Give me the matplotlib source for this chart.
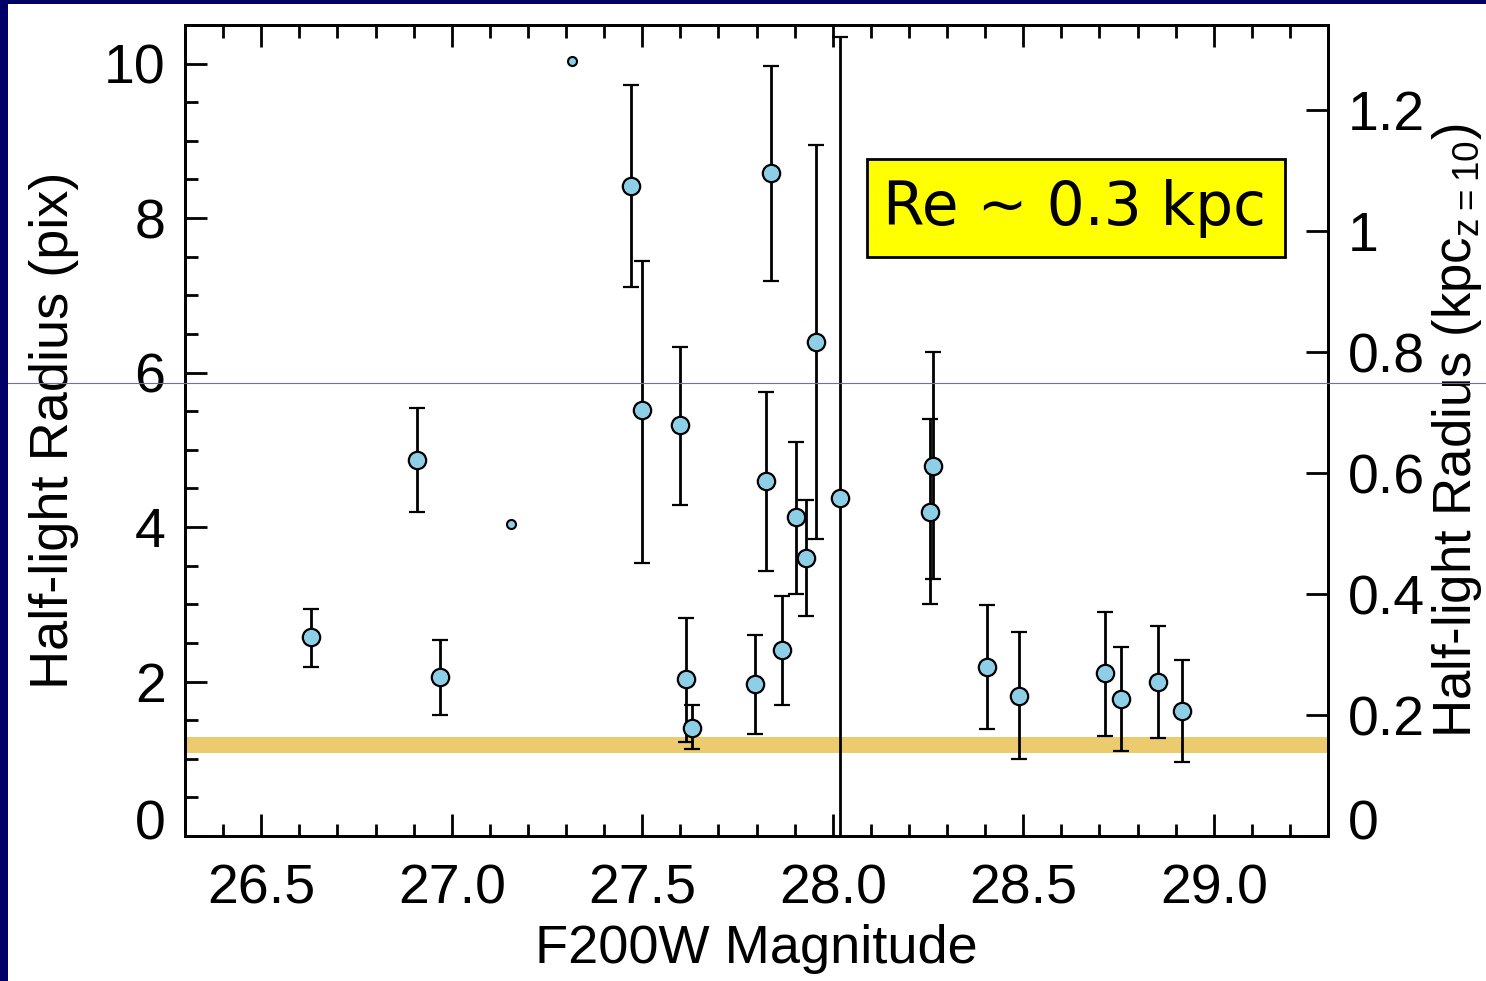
import matplotlib
matplotlib.use('Agg')
import matplotlib.pyplot as plt
from matplotlib.patches import Rectangle
from matplotlib.lines import Line2D
from matplotlib.ticker import MultipleLocator
from matplotlib.transforms import ScaledTranslation
import numpy as np

plt.rcParams['font.family'] = ['Liberation Sans', 'DejaVu Sans']
plt.rcParams['mathtext.default'] = 'regular'

# measurements with error bars: magnitude, radius (pix), upper, lower ends
mag = [26.63, 26.91, 26.97, 27.47, 27.50, 27.60, 27.615, 27.63, 27.795, 27.867,
       27.825, 27.838, 27.904, 27.93, 27.957, 28.02, 28.264, 28.255, 28.405, 28.49,
       28.715, 28.757, 28.854, 28.917]
rad = [2.57, 4.87, 2.06, 8.42, 5.51, 5.32, 2.03, 1.40, 1.97, 2.41,
       4.60, 8.59, 4.13, 3.60, 6.40, 4.37, 4.79, 4.20, 2.19, 1.81,
       2.11, 1.77, 1.99, 1.62]
rad_hi = [2.94, 5.54, 2.54, 9.72, 7.44, 6.33, 2.82, 1.70, 2.60, 3.11,
          5.75, 9.97, 5.10, 4.35, 8.95, 10.35, 6.26, 5.40, 2.99, 2.64,
          2.90, 2.45, 2.72, 2.28]
rad_lo = [2.19, 4.20, 1.57, 7.11, 3.54, 4.29, 1.22, 1.13, 1.32, 1.70,
          3.43, 7.18, 3.13, 2.85, 3.85, -1.0, 3.33, 3.00, 1.39, 1.00,
          1.30, 1.10, 1.27, 0.96]

# two objects without error bars (small dots)
mag_small = [27.156, 27.316]
rad_small = [4.04, 10.04]

# PSF band (pix)
band_lo, band_hi = 1.08, 1.28
pix_to_kpc = 0.1277

fig = plt.figure(figsize=(14.86, 9.81), dpi=100)
ax = fig.add_axes([185/1486, 1 - 836/981, (1328 - 185)/1486, (836 - 25)/981])

ax.axhspan(band_lo, band_hi, color='#ECCB6E', lw=0, zorder=1)

mag = np.array(mag); rad = np.array(rad)
yerr = [rad - np.array(rad_lo), np.array(rad_hi) - rad]
ax.errorbar(mag, rad, yerr=yerr, fmt='o', ms=12.5, mfc='#8ECFE8', mec='black',
            mew=1.6, ecolor='black', elinewidth=2, capsize=6, capthick=2, zorder=3)
ax.plot(mag_small, rad_small, 'o', ms=6.5, mfc='#8ECFE8', mec='black', mew=1.5, zorder=3)

ax.set_xlim(26.3, 29.3)
ax.set_ylim(0, 10.5)
ax.xaxis.set_major_locator(MultipleLocator(0.5))
ax.xaxis.set_minor_locator(MultipleLocator(0.1))
ax.yaxis.set_major_locator(MultipleLocator(2))
ax.yaxis.set_minor_locator(MultipleLocator(0.5))
ax.xaxis.set_major_formatter(plt.FormatStrFormatter('%.1f'))
ax.tick_params(axis='both', which='major', direction='in', length=16, width=2,
               labelsize=40, top=True, pad=20)
ax.tick_params(axis='both', which='minor', direction='in', length=9, width=2, top=True)
ax.tick_params(axis='y', pad=14)
for s in ax.spines.values():
    s.set_linewidth(2)

ax.set_xlabel('F200W Magnitude', fontsize=39, labelpad=6)
ax.set_ylabel('Half-light Radius (pix)', fontsize=39, labelpad=18)

ax2 = ax.twinx()
ax2.set_ylim(0, 10.5 * pix_to_kpc)
ax2.yaxis.set_major_locator(MultipleLocator(0.2))
ax2.yaxis.set_major_formatter(plt.FuncFormatter(lambda v, p: '0' if abs(v) < 1e-9 else ('%g' % round(v, 1))))
ax2.tick_params(axis='y', which='major', direction='in', length=16, width=2,
                labelsize=40, pad=14)
ax2.set_ylabel('Half-light Radius (kpc$_{z=10}$)', fontsize=38, labelpad=4)
for s in ax2.spines.values():
    s.set_linewidth(2)

# the "0" labels sit a bit above their ticks
fig.canvas.draw()
lift = ScaledTranslation(0, 16/100, fig.dpi_scale_trans)
for a in (ax, ax2):
    for t in a.yaxis.get_major_ticks():
        if abs(t.get_loc()) < 1e-9:
            for lab in (t.label1, t.label2):
                lab.set_transform(lab.get_transform() + lift)

# annotation box
ax.add_patch(Rectangle((28.09, 7.49), 29.188 - 28.09, 8.76 - 7.49, facecolor='#FFFF00',
                       edgecolor='black', lw=2, zorder=4))
ax.text(28.635, 8.12, 'Re ~ 0.3 kpc', fontsize=43, ha='center', va='center',
        family='DejaVu Sans', zorder=5)

# slide frame decorations
fig.add_artist(Rectangle((0, 0), 8/1486, 1, transform=fig.transFigure,
                         facecolor='#000066', edgecolor='none'))
fig.add_artist(Rectangle((0, 1 - 4/981), 1, 4/981, transform=fig.transFigure,
                         facecolor='#000066', edgecolor='none'))
fig.add_artist(Line2D([8/1486, 1], [1 - 383/981, 1 - 383/981], transform=fig.transFigure,
                      color='#7070a0', lw=0.8, zorder=10))

fig.savefig('out.png', dpi=100)
